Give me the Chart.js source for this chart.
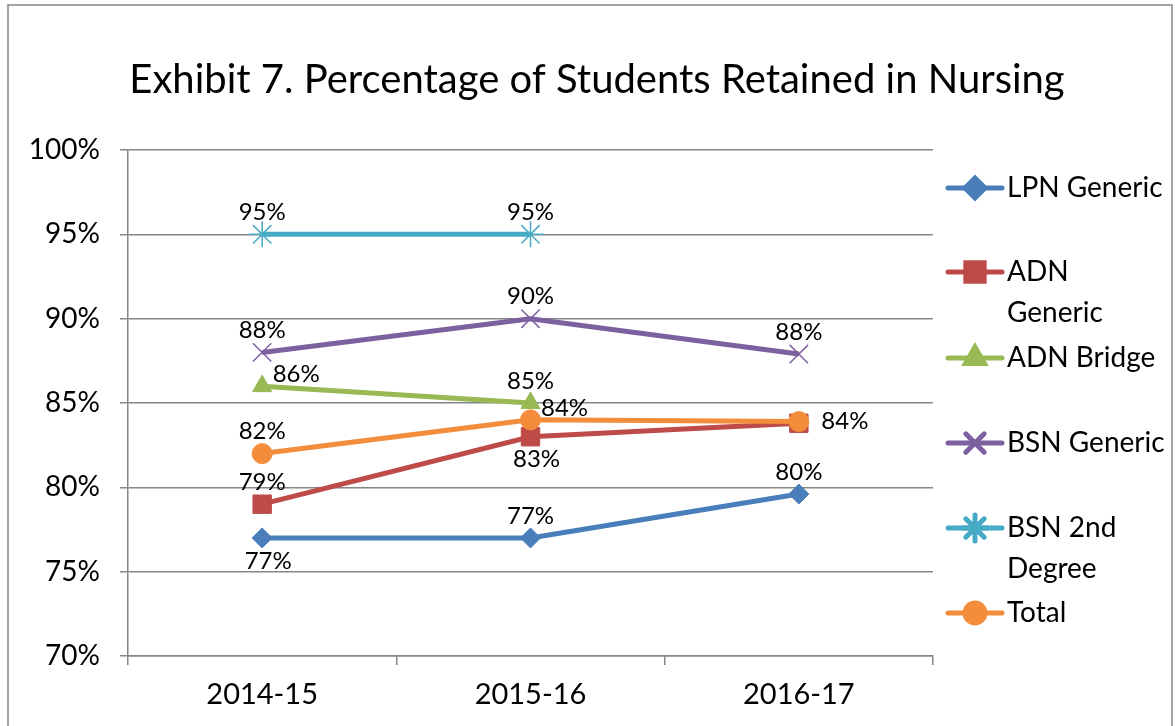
<!DOCTYPE html>
<html>
<head>
<meta charset="utf-8">
<script src="https://cdn.jsdelivr.net/npm/chart.js@4/dist/chart.umd.min.js"></script>
<style>
  html, body { margin: 0; padding: 0; background: #fff; }
  #wrap { width: 1175px; height: 726px; }
</style>
</head>
<body>
<div id="wrap"><canvas id="canvas" width="1175" height="726"></canvas></div>
<script>
var YEARS = ["2014-15", "2015-16", "2016-17"];
var SERIES_NAMES = ["LPN Generic", "ADN Generic", "ADN Bridge", "BSN Generic", "BSN 2nd Degree", "Total"];
var lpnGeneric  = [77, 77, 79.6];
var adnGeneric  = [79, 83, 83.8];
var adnBridge   = [86, 85, null];
var bsnGeneric  = [88, 90, 87.9];
var bsn2nd      = [95, 95, null];
var total       = [82, 84, 83.9];
var Y_TICKS = [70, 75, 80, 85, 90, 95, 100];

// where each point's data label sits
var labelPos = [
	['below', 'above', 'above'],
	['above', 'below', 'right'],
	['upright', 'above', null],
	['above', 'above', 'above'],
	['above', 'above', null],
	['above', 'upright', null]
];

var FONT = "Lato, 'Open Sans', sans-serif";
var colors = ['#4A7EBB', '#BE4B48', '#98B954', '#7D60A0', '#46AAC5', '#F38D3C'];
var styles = ['rectRot', 'rect', 'triangle', 'crossRot', 'star', 'circle'];
var radii = [10, 13, 11, 13, 13, 10];
var legendLines = [["LPN Generic"], ["ADN", "Generic"], ["ADN Bridge"], ["BSN Generic"], ["BSN 2nd", "Degree"], ["Total"]];
var allData = [lpnGeneric, adnGeneric, adnBridge, bsnGeneric, bsn2nd, total];

var datasets = allData.map(function (d, i) {
	var thin = styles[i] == 'crossRot' || styles[i] == 'star';
	return {
		label: SERIES_NAMES[i],
		data: d,
		borderColor: colors[i],
		backgroundColor: colors[i],
		borderWidth: 5,
		pointStyle: styles[i],
		pointRadius: radii[i],
		pointHoverRadius: radii[i],
		pointBorderWidth: thin ? 1.5 : 1,
		pointBorderColor: colors[i],
		pointBackgroundColor: colors[i],
		tension: 0,
		spanGaps: false,
		order: 6 - i
	};
});

var extras = {
	id: 'extras',
	afterDatasetsDraw: function (chart) {
		var c = chart.ctx;
		c.save();
		c.fillStyle = '#000';
		c.font = '24px ' + FONT;
		c.textAlign = 'center';
		c.textBaseline = 'middle';
		chart.data.datasets.forEach(function (ds, i) {
			var meta = chart.getDatasetMeta(i);
			meta.data.forEach(function (pt, j) {
				var v = ds.data[j];
				var pos = labelPos[i][j];
				if (v == null || !pos) return;
				var txt = Math.round(v) + '%';
				var x = pt.x, y = pt.y;
				if (pos == 'above') { y -= 22; }
				else if (pos == 'below') { y += 23; x += 6; }
				else if (pos == 'right') { x += 46; y -= 2; }
				else if (pos == 'upright') { x += 34; y -= 12; }
				c.fillText(txt, x, y);
			});
		});
		c.restore();
	},
	afterDraw: function (chart) {
		var c = chart.ctx;
		c.save();
		// outer frame
		c.strokeStyle = '#868686';
		c.lineWidth = 1.5;
		c.beginPath();
		c.moveTo(8, 740); c.lineTo(8, 5); c.lineTo(1172, 5); c.lineTo(1172, 740);
		c.stroke();
		// title
		c.fillStyle = '#000';
		c.font = '40px ' + FONT;
		c.textAlign = 'center';
		c.textBaseline = 'middle';
		c.fillText('Exhibit 7. Percentage of Students Retained in Nursing', 597, 80);
		// legend
		var rows = [188, 272, 358, 443, 528, 613];
		c.font = '28px ' + FONT;
		c.textAlign = 'left';
		rows.forEach(function (y, i) {
			var ds = chart.data.datasets[i];
			c.strokeStyle = colors[i];
			c.lineWidth = 5;
			c.lineCap = 'round';
			c.beginPath();
			c.moveTo(948, y); c.lineTo(1002, y);
			c.stroke();
			Chart.helpers.drawPoint(c, {
				pointStyle: styles[i],
				radius: radii[i],
				borderWidth: ds.pointBorderWidth,
				rotation: 0
			}, 975, y);
			c.fillStyle = colors[i];
			c.strokeStyle = colors[i];
			c.lineWidth = ds.pointBorderWidth;
			c.fill();
			c.stroke();
			c.fillStyle = '#000';
			legendLines[i].forEach(function (t, k) {
				c.fillText(t, 1007, y + k * 41);
			});
		});
		c.restore();
	}
};

window.onload = function () {
	var ctx = document.getElementById('canvas').getContext('2d');
	window.myLine = new Chart(ctx, {
		type: 'line',
		data: { labels: YEARS, datasets: datasets },
		plugins: [extras],
		options: {
			responsive: false,
			animation: false,
			layout: { padding: { left: 8, right: 242, top: 150, bottom: 0 } },
			plugins: {
				legend: { display: false },
				title: { display: false },
				tooltip: { enabled: false }
			},
			scales: {
				x: {
					offset: true,
					grid: { display: true, drawOnChartArea: false, drawTicks: true, tickLength: 9, offset: true, color: '#868686', lineWidth: 1.5 },
					border: { display: true, color: '#868686', width: 1.5 },
					ticks: { color: '#000', font: { family: FONT, size: 29 }, padding: 12, maxRotation: 0 },
					afterFit: function (s) { s.height = 70; }
				},
				y: {
					min: 70,
					max: 100,
					afterBuildTicks: function (s) { s.ticks = Y_TICKS.map(function (v) { return { value: v }; }); },
					grid: { color: '#868686', lineWidth: 1.5, tickLength: 8 },
					border: { display: true, color: '#868686', width: 1.5 },
					ticks: { color: '#000', font: { family: FONT, size: 28 }, padding: 20, callback: function (v) { return v + '%'; } },
					afterFit: function (s) { s.width = 120; }
				}
			}
		}
	});
};
</script>
</body>
</html>
